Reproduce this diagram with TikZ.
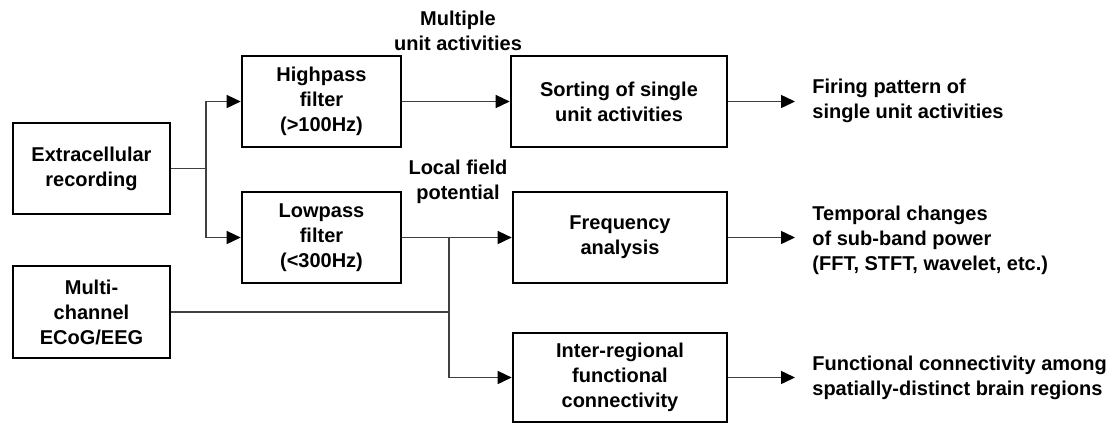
\documentclass[tikz,border=0pt]{standalone}
\usepackage{fontspec}
\setmainfont{Liberation Sans}
\usetikzlibrary{arrows.meta}

\tikzset{
    blk/.style={draw, line width=1.3pt, align=center, font=\fontsize{10pt}{12.5pt}\selectfont\bfseries, inner sep=0pt},
    txt/.style={align=center, font=\fontsize{10pt}{12.5pt}\selectfont\bfseries, inner sep=0pt},
    outtxt/.style={align=left, font=\fontsize{10pt}{12.5pt}\selectfont\bfseries, inner sep=0pt, anchor=west},
    wire/.style={draw=black!75, line width=0.75pt},
    arr/.style={wire, -{Triangle[length=7pt, width=6.5pt, color=black]}}
}

\begin{document}
\begin{tikzpicture}[x=0.5pt, y=-0.5pt]
        \useasboundingbox (0,0) rectangle (1114,425);

        \node[blk, minimum width=78.5pt, minimum height=45.5pt] (ext) at (91.5,168.5) {Extracellular\\recording}; %ext
        \node[blk, minimum width=78.5pt, minimum height=46pt] (multi) at (91.5,312) {Multi-\\channel\\ECoG/EEG}; %multi

        \node[blk, minimum width=79.5pt, minimum height=45.5pt] (high) at (321.5,101.5) {Highpass\\filter\\(>100Hz)}; %high
        \node[blk, minimum width=79.5pt, minimum height=45.5pt] (low) at (321.5,237.5) {Lowpass\\filter\\(<300Hz)}; %low

        \node[blk, minimum width=108pt, minimum height=45.5pt] (sort) at (619,101.5) {Sorting of single\\unit activities}; %sort
        \node[blk, minimum width=107pt, minimum height=45.5pt] (freq) at (620,237.5) {Frequency\\analysis}; %freq
        \node[blk, minimum width=107pt, minimum height=44.5pt] (inter) at (620,377.5) {Inter-regional\\functional\\connectivity}; %inter

        \node[txt] (mua) at (458,30.5) {Multiple\\unit activities};
        \node[txt] (lfp) at (458,182) {Local field\\potential};

        \node[outtxt] (firing) at (812,100.5) {Firing pattern of\\single unit activities};
        \node[outtxt] (power) at (812,240) {Temporal changes\\of sub-band power\\(FFT, STFT, wavelet, etc.)};
        \node[outtxt] (conn) at (812,377.5) {Functional connectivity among\\spatially-distinct brain regions};

        \coordinate (split) at (206,168.5);
        \coordinate (tap) at (449,237.5);
        \coordinate (merge) at (449,312);

        \draw[wire] (ext) -- (split);
        \draw[arr] (split) |- (high);
        \draw[arr] (split) |- (low);
        \draw[arr] (high) -- (sort);
        \draw[arr] (low) -- (freq);
        \draw[wire] (multi) -- (merge);
        \draw[arr] (tap) -- (merge) |- (inter);

        \draw[arr, shorten >=8.5pt] (sort.east) -- (sort.east -| firing.west);
        \draw[arr, shorten >=8.5pt] (freq.east) -- (freq.east -| power.west);
        \draw[arr, shorten >=8.5pt] (inter.east) -- (inter.east -| conn.west);
    \end{tikzpicture}
\end{document}
